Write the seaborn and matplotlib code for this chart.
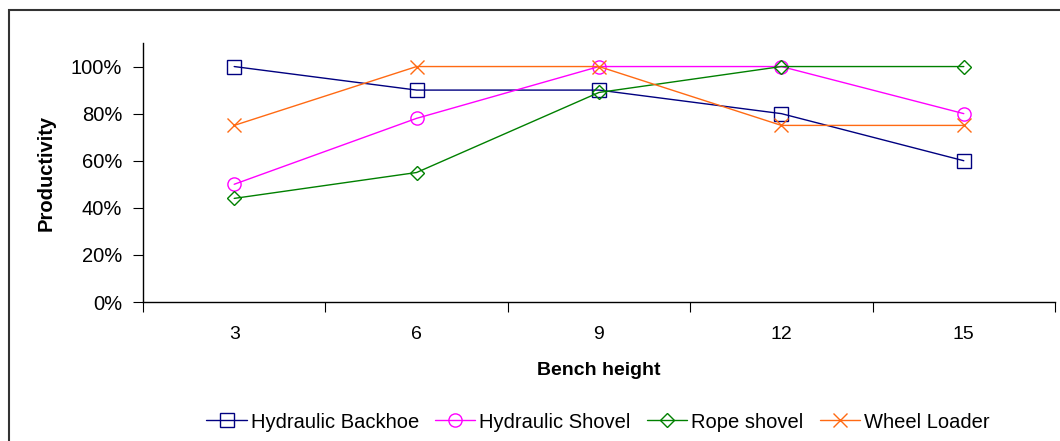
import matplotlib
matplotlib.use("Agg")
import matplotlib.pyplot as plt
import matplotlib.patches as mpatches
from matplotlib.ticker import FixedLocator, PercentFormatter
import seaborn as sns
import pandas as pd

bench_height = [3, 6, 9, 12, 15]
hydraulic_backhoe = [1.00, 0.90, 0.90, 0.80, 0.60]
hydraulic_shovel = [0.50, 0.78, 1.00, 1.00, 0.80]
rope_shovel = [0.44, 0.55, 0.89, 1.00, 1.00]
wheel_loader = [0.75, 1.00, 1.00, 0.75, 0.75]
series_names = ["Hydraulic Backhoe", "Hydraulic Shovel", "Rope shovel", "Wheel Loader"]
series_values = [hydraulic_backhoe, hydraulic_shovel, rope_shovel, wheel_loader]

colors = {"Hydraulic Backhoe": "#000080", "Hydraulic Shovel": "#FF00FF",
          "Rope shovel": "#008000", "Wheel Loader": "#FF6A13"}
markers = {"Hydraulic Backhoe": "s", "Hydraulic Shovel": "o",
           "Rope shovel": "D", "Wheel Loader": "x"}
msizes = {"Hydraulic Backhoe": 9.5, "Hydraulic Shovel": 9.5,
          "Rope shovel": 7.5, "Wheel Loader": 10}

sns.set_style("white")
plt.rcParams["font.family"] = ["Liberation Sans", "DejaVu Sans"]
plt.rcParams["text.color"] = "black"
plt.rcParams["xtick.color"] = "black"
plt.rcParams["ytick.color"] = "black"
plt.rcParams["axes.labelcolor"] = "black"

fig = plt.figure(figsize=(10.6, 4.41), dpi=100)
ax = fig.add_axes([143/1060, 1-302/441, (1055-143)/1060, (302-43)/441])

for name, vals in zip(series_names, series_values):
    df = pd.DataFrame({"Bench height": bench_height, "Productivity": vals})
    c = colors[name]
    sns.lineplot(data=df, x="Bench height", y="Productivity", color=c,
                 linewidth=1.0, marker=markers[name], markersize=msizes[name],
                 markerfacecolor="none", markeredgecolor=c, markeredgewidth=1.0,
                 label=name, legend=False, ax=ax)

ax.set_xlim(1.5, 16.5)
ax.set_ylim(0, 1.1)
ax.set_xticks(bench_height)
ax.set_xticklabels([str(b) for b in bench_height])
ax.xaxis.set_minor_locator(FixedLocator([1.5 + 3*k for k in range(6)]))
ax.tick_params(axis="x", which="major", length=0, pad=17, labelsize=14)
ax.tick_params(axis="x", which="minor", length=7, width=0.8, color="black", direction="out", bottom=True)
ax.set_yticks([0, 0.2, 0.4, 0.6, 0.8, 1.0])
ax.yaxis.set_major_formatter(PercentFormatter(1.0, decimals=0))
ax.tick_params(axis="y", length=7, width=0.8, color="black", direction="out", labelsize=14.5, left=True, pad=8)

for s in ["top", "right"]:
    ax.spines[s].set_visible(False)
for s in ["left", "bottom"]:
    ax.spines[s].set_color("black")
    ax.spines[s].set_linewidth(1.0)

ax.set_xlabel("Bench height", fontsize=14, fontweight="bold", labelpad=14)
ax.set_ylabel("Productivity", fontsize=14.5, fontweight="bold", labelpad=11)

handles = list(ax.lines)[:len(series_names)]
fig.legend(handles=handles, labels=series_names, loc="center",
           bbox_to_anchor=(598/1060, 1-422/441), ncol=4, frameon=False,
           fontsize=14.5, handlelength=2.0, handletextpad=0.2, columnspacing=0.8)

fig.patches.append(mpatches.Rectangle((8.5/1060, -0.1), 1.2, 1 - 9.5/441 + 0.1,
                                      transform=fig.transFigure, fill=False,
                                      edgecolor="#333333", linewidth=1.5))

fig.savefig("out.png", dpi=100)
